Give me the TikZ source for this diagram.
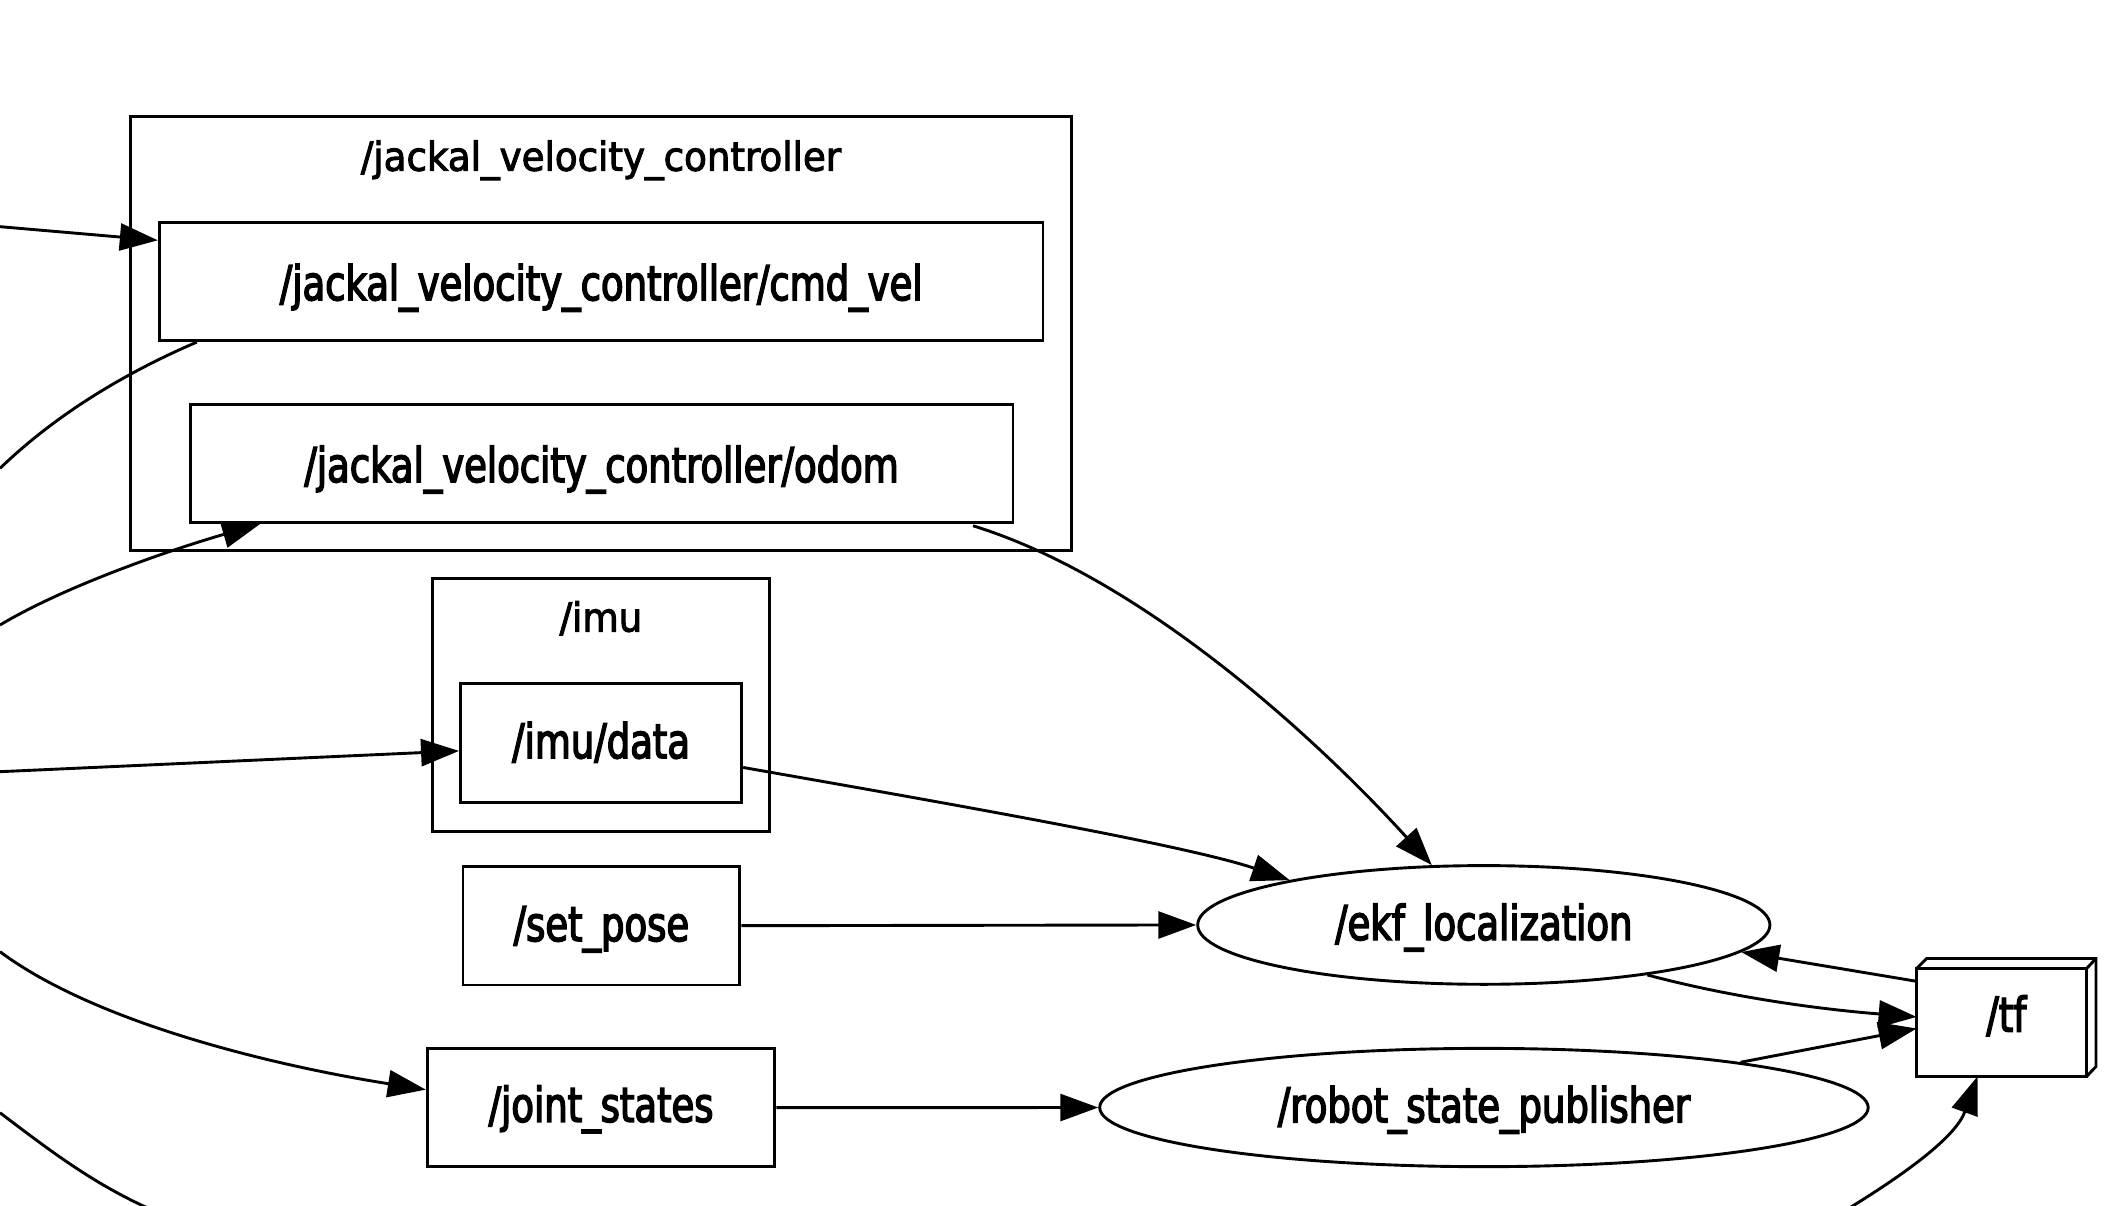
\documentclass[tikz,border=0pt]{standalone}
\usepackage{fontspec}
\newfontfamily\nodefont{DejaVu Sans}[FakeStretch=0.77,FakeBold=3]
\newfontfamily\clusterfont{DejaVu Sans}[FakeStretch=0.93,FakeBold=2.5]
\usetikzlibrary{arrows.meta,shapes.geometric,fit,calc}
\begin{document}
\begin{tikzpicture}[x=1.3444pt, y=-1.3444pt,
  line width=2.9pt,
  box/.style={draw, rectangle, inner sep=0pt, text depth=0pt,
    font=\nodefont\fontsize{48}{58}\selectfont},
  ell/.style={draw, ellipse, inner sep=0pt, text depth=0pt,
    font=\nodefont\fontsize{48}{58}\selectfont},
  tfbox/.style={rectangle, inner sep=0pt, text depth=0pt,
    font=\nodefont\fontsize{48}{58}\selectfont},
  cluster/.style={draw, rectangle, inner sep=0pt},
  clab/.style={anchor=base, inner sep=0pt,
    font=\clusterfont\fontsize{40}{48}\selectfont},
  conn/.style={-{Triangle[length=38pt,width=27pt]}}
]
\path[use as bounding box] (0,0) rectangle (1568,897);
\clip (0,0) rectangle (1568,897);

% clusters
\node[cluster, fit={(97.2,86.8) (797,409.8)}] (jvc) {};
\node[clab] (jvclabel) at (447,127) {/jackal\_velocity\_controller};
\node[cluster, fit={(321.6,430.3) (572.6,618.3)}] (imu) {};
\node[clab] (imulabel) at (447,469.8) {/imu};

% topics and nodes
\node[box, text height=37.1pt, minimum width=883.7pt, minimum height=118pt] (cmd) at (447.15,209.5) {/jackal\_velocity\_controller/cmd\_vel};
\node[box, text height=37.1pt, minimum width=822.9pt, minimum height=117.8pt] (odom) at (447.45,344.8) {/jackal\_velocity\_controller/odom};
\node[box, text height=30pt, minimum width=281.2pt, minimum height=118.7pt] (imud) at (447.1,552.85) {/imu/data};
\node[box, text height=30.8pt, minimum width=276.8pt, minimum height=118.7pt] (setp) at (447.35,688.55) {/set\_pose};
\node[box, text height=28.5pt, minimum width=347.7pt, minimum height=118pt] (js) at (447.1,823.9) {/joint\_states};
\node[ell, text height=30.1pt, minimum width=572.2pt, minimum height=118.7pt] (ekf) at (1103.7,688) {/ekf\_localization};
\node[ell, text height=29.6pt, minimum width=768.5pt, minimum height=118.3pt] (rsp) at (1103.8,823.8) {/robot\_state\_publisher};
\node[tfbox, text height=28.5pt, minimum width=176.5pt, minimum height=115.1pt] (tf) at (1492.35,756.8) {/tf};
\draw (tf.south west) rectangle ($(tf.north east)+(-7,7.5)$);
\draw ($(tf.north west)+(0,7.5)$) -- ($(tf.north west)+(7.5,0)$) -- (tf.north east)
      -- ($(tf.south east)+(0,-7.4)$) -- ($(tf.south east)+(-7,0)$);
\draw ($(tf.north east)+(-7,7.5)$) -- (tf.north east);

% free ends at the frame border
\coordinate (a1) at (0,168.6);
\coordinate (a2) at (0,348.4);
\coordinate (a3) at (0,464.9);
\coordinate (a4) at (0,574);
\coordinate (a8) at (0,707.9);
\coordinate (a13) at (0,827.7);
\coordinate (b13) at (125,905);
\coordinate (c13) at (1365,905);

% connectors
\draw[conn] (a1) -- ($(cmd.north west)+(0,14.2)$);
\draw ($(cmd.south west)+(29,0)$) .. controls (110,270) and (50,300) .. (a2);
\draw[conn] (a3) .. controls (50,435) and (130,408) .. ($(odom.south west)+(53.2,0)$);
\draw[conn] (a4) -- ($(imud.west)+(0,5.7)$);
\draw[conn] ($(imud.east)+(0,18)$) .. controls (690,595) and (880,628) .. (ekf.167.6);
\draw[conn] ($(odom.south east)+(-30.8,1.4)$) .. controls (850,430) and (980,550) .. (ekf.131.7);
\draw[conn] (setp.east) -- (ekf.west);
\draw[conn] (a8) .. controls (70,760) and (200,792) .. ($(js.west)+(0,-13.4)$);
\draw[conn] (js.east) -- (rsp.west);
\draw[conn] ($(tf.north west)+(0,17)$) -- (ekf.354.8);
\draw[conn] (ekf.343.5) .. controls (1300,745) and (1370,752) .. ($(tf.north west)+(0,43.5)$);
\draw[conn] (rsp.10) -- ($(tf.north west)+(0,52.1)$);
\draw (a13) .. controls (40,858) and (75,885) .. (b13);
\draw[conn] (c13) .. controls (1420,872) and (1455,845) .. ($(tf.south west)+(45.3,0)$);
\end{tikzpicture}
\end{document}
